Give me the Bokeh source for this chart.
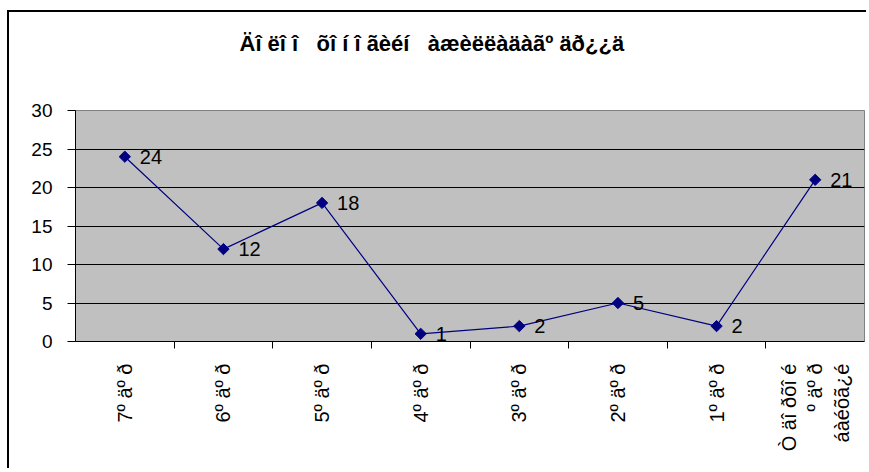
import math
from bokeh.plotting import figure
from bokeh.models import FixedTicker, Range1d, ColumnDataSource, Title
from bokeh.core.properties import value
from bokeh.embed import file_html
from bokeh.resources import INLINE

NB = "\u00a0"
title_text = f"Äî{NB}ëî{NB}î{NB}{NB}{NB}õî{NB}í{NB}î{NB}ãèéí{NB}{NB}{NB}àæèëëàäàãº{NB}äð¿¿ä"
categories = ["7º äº ð", "6º äº ð", "5º äº ð", "4º äº ð", "3º äº ð", "2º äº ð", "1º äº ð",
              "Ò äî ðõî é\nº äº ð\náàéõã¿é"]
values = [24, 12, 18, 1, 2, 5, 2, 21]
y_ticks = [0, 5, 10, 15, 20, 25, 30]

xs = [i + 0.5 for i in range(len(categories))]
src = ColumnDataSource(data=dict(x=xs, y=values, lbl=[str(v) for v in values]))

FONT = "Liberation Sans"

p = figure(width=859, height=458, output_backend="svg", toolbar_location=None,
           x_range=Range1d(0, len(categories)), y_range=Range1d(0, 30),
           min_border_left=66, min_border_right=4, min_border_bottom=129, min_border_top=98)
p.styles = {"border-left": "2px solid black", "border-top": "2px solid black",
            "margin-top": "10px", "margin-left": "7px"}
p.title.visible = False

# spacer (closest to frame), then the visible title above it
p.add_layout(Title(text=NB, text_font_size="1px", standoff=52), "above")
p.add_layout(Title(text=title_text, align="left", text_font=FONT, text_font_size="22px",
                   text_font_style="bold", text_color="black", standoff=0, offset=164), "above")

p.background_fill_color = "#C0C0C0"
p.border_fill_color = "white"
p.outline_line_color = "#808080"
p.outline_line_width = 1

# grid
p.xgrid.visible = False
p.ygrid.ticker = FixedTicker(ticks=[5, 10, 15, 20, 25])
p.ygrid.grid_line_color = "black"
p.ygrid.grid_line_width = 1

# y axis
p.yaxis.ticker = FixedTicker(ticks=y_ticks)
p.yaxis.major_tick_out = 8
p.yaxis.major_tick_in = 0
p.yaxis.minor_tick_line_color = None
p.yaxis.axis_line_color = "black"
p.yaxis.major_label_text_font = FONT
p.yaxis.major_label_text_font_size = "19px"
p.yaxis.major_label_text_color = "black"
p.yaxis.major_label_standoff = 15

# x axis
p.xaxis.ticker = FixedTicker(ticks=xs, minor_ticks=list(range(1, len(categories))))
p.xaxis.major_label_overrides = {x: c for x, c in zip(xs, categories)}
p.xaxis.major_tick_out = 0
p.xaxis.major_tick_in = 0
p.xaxis.minor_tick_out = 7
p.xaxis.minor_tick_in = 0
p.xaxis.minor_tick_line_color = "black"
p.xaxis.axis_line_color = "black"
p.xaxis.major_label_orientation = math.pi / 2
p.xaxis.major_label_text_font = FONT
p.xaxis.major_label_text_font_size = "20px"
p.xaxis.major_label_text_color = "black"
p.xaxis.major_label_standoff = 15

p.line("x", "y", source=src, line_color="#000080", line_width=1.2)
p.scatter("x", "y", source=src, marker="square", angle=math.pi / 4, size=8,
          fill_color="#000080", line_color="#000080")
p.text("x", "y", text="lbl", source=src, x_offset=15, text_baseline="middle",
       text_font=value(FONT), text_font_size="20px", text_color="black")

open("out.html", "w").write(file_html(p, INLINE))
